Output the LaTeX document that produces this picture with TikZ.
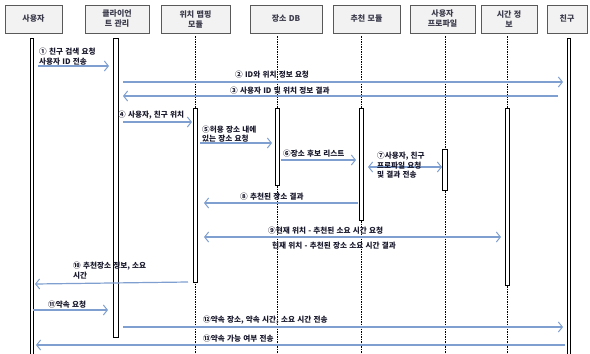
\documentclass[tikz,border=0pt]{standalone}
\usepackage{fontspec}
\newfontfamily\kr[WordSpace=1.3]{Noto Sans CJK KR}
\usetikzlibrary{arrows.meta}
\definecolor{msgc}{HTML}{7F9FD0}
\definecolor{hdrfill}{HTML}{F2F2F2}
\definecolor{txtc}{HTML}{1A1A2E}
\tikzset{
  hdr/.style={draw=black!65, fill=hdrfill, line width=0.8pt, inner sep=0pt, align=center,
    font=\kr\bfseries\fontsize{8}{10}\selectfont, text=txtc!85},
  lbl/.style={inner sep=0pt, align=left, anchor=west, font=\kr\bfseries\fontsize{7.6}{9.6}\selectfont, text=txtc},
  msg/.style={draw=msgc, line width=1.2pt, -{Straight Barb[length=4pt,width=10pt,line width=1pt]}},
  msgb/.style={draw=msgc, line width=1.2pt, {Straight Barb[length=4pt,width=10pt,line width=1pt]}-{Straight Barb[length=4pt,width=10pt,line width=1pt]}},
  life/.style={draw=black, line width=0.6pt, dash pattern=on 1.5pt off 1pt},
  act/.style={draw=black, fill=white, line width=0.7pt},
}
\begin{document}
\begin{tikzpicture}[x=1pt,y=-1pt]
\useasboundingbox (0,0) rectangle (590,354);
% headers
\node[hdr, minimum width=57pt, minimum height=28pt] (h1) at (33.5,19) {사용자};
\node[hdr, minimum width=64pt, minimum height=28pt] (h2) at (117,19) {클라이언\\트 관리};
\node[hdr, minimum width=69pt, minimum height=28pt] (h3) at (195.5,19) {위치 맵핑\\모듈};
\node[hdr, minimum width=72pt, minimum height=28pt] (h4) at (286,19) {장소 DB};
\node[hdr, minimum width=67pt, minimum height=28pt] (h5) at (366.5,19) {추천 모듈};
\node[hdr, minimum width=65pt, minimum height=28pt] (h6) at (442.5,19) {사용자\\프로파일};
\node[hdr, minimum width=56pt, minimum height=28pt] (h7) at (509,19) {시간 정\\보};
\node[hdr, minimum width=40pt, minimum height=28pt] (h8) at (567,19) {친구};
% lifelines
\draw[life] (195,36) -- (195,354);
\draw[life] (277,36) -- (277,354);
\draw[life] (361,36) -- (361,354);
\draw[life] (445,36) -- (445,354);
\draw[life] (507,36) -- (507,354);
% activations
\draw[act] (30,38) rectangle (33,354);
\draw[act] (567,38) rectangle (570,354);
\draw[act] (113,38) rectangle (118,337);
\draw[act] (193,108) rectangle (197,282);
\draw[act] (275,108) rectangle (279,185);
\draw[act] (359,108) rectangle (363,220);
\draw[act] (442,149) rectangle (447,190);
\draw[act] (505,108) rectangle (509,285);
% message endpoints
\coordinate (a1) at (38,66);   \coordinate (b1) at (109,66);
\coordinate (a2) at (123,82);  \coordinate (b2) at (563,82);
\coordinate (a3) at (558,96);  \coordinate (b3) at (123,96);
\coordinate (a4) at (123,122); \coordinate (b4) at (192,122);
\coordinate (a5) at (200,143); \coordinate (b5) at (272,143);
\coordinate (a6) at (281,160); \coordinate (b6) at (356,160);
\coordinate (a7) at (368,167); \coordinate (b7) at (442,167);
\coordinate (a8) at (358,203); \coordinate (b8) at (204,203);
\coordinate (a9) at (204,237); \coordinate (b9) at (501,237);
\coordinate (a10) at (188,282); \coordinate (b10) at (35,284);
\coordinate (a11) at (33,310); \coordinate (b11) at (108,310);
\coordinate (a12) at (123,327); \coordinate (b12) at (563,327);
\coordinate (a13) at (565,345); \coordinate (b13) at (36,345);
% messages
\draw[msg] (a1) -- (b1);
\draw[msg] (a2) -- (b2);
\draw[msg] (a3) -- (b3);
\draw[msg] (a4) -- (b4);
\draw[msg] (a5) -- (b5);
\draw[msg] (a6) -- (b6);
\draw[msgb] (a7) -- (b7);
\draw[msg] (a8) -- (b8);
\draw[msgb] (a9) -- (b9);
\draw[msg] (a10) -- (b10);
\draw[msg] (a11) -- (b11);
\draw[msg] (a12) -- (b12);
\draw[msg] (a13) -- (b13);
% labels
\node[lbl] (t1) at (39,56.5) {① 친구 검색 요청\\사용자 ID 전송};
\node[lbl] (t2) at (235,75) {② ID와 위치 정보 요청};
\node[lbl] (t3) at (230,91) {③ 사용자 ID 및 위치 정보 결과};
\node[lbl] (t4) at (118,115) {④ 사용자, 친구 위치};
\node[lbl] (t5) at (202,134) {⑤허용 장소 내에\\있는 장소 요청};
\node[lbl] (t6) at (283,154) {⑥장소 후보 리스트};
\node[lbl] (t7) at (377,165.5) {⑦사용자, 친구\\프로파일 요청\\및 결과 전송};
\node[lbl] (t8) at (240,197) {⑧ 추천된 장소 결과};
\node[lbl] (t9) at (268,231) {⑨현재 위치 - 추천된 소요 시간 요청};
\node[lbl] (t9b) at (272,246) {현재 위치 - 추천된 장소  소요 시간 결과};
\node[lbl] (t10) at (73,270.5) {⑩ 추천장소 정보, 소요\\시간};
\node[lbl] (t11) at (48,305) {⑪약속 요청};
\node[lbl] (t12) at (203,320) {⑫약속 장소, 약속 시간, 소요 시간 전송};
\node[lbl] (t13) at (203,339) {⑬약속 가능 여부 전송};
\end{tikzpicture}
\end{document}
